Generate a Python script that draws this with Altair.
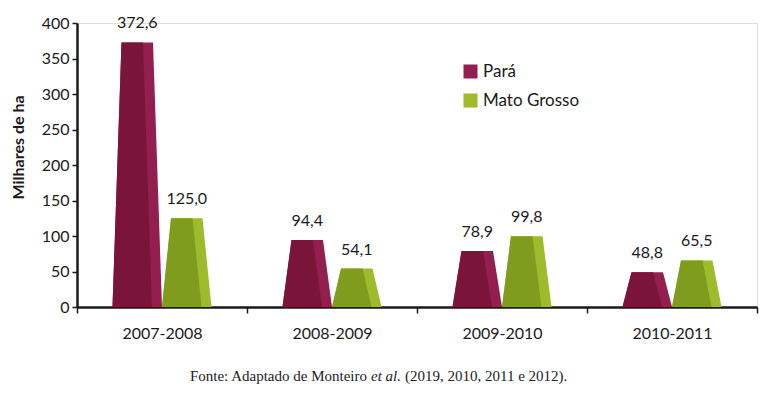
import altair as alt
import pandas as pd

periods = ["2007-2008", "2008-2009", "2009-2010", "2010-2011"]
series = ["Pará", "Mato Grosso"]
para = [372.6, 94.4, 78.9, 48.8]
mato = [125.0, 54.1, 99.8, 65.5]
y_ticks = [0, 50, 100, 150, 200, 250, 300, 350, 400]
footer = ["Fonte: Adaptado de Monteiro", "et al.", "(2019, 2010, 2011 e 2012)."]

side_colors = ["#931f50", "#9dbb2a"]
front_colors = ["#7a1539", "#7f9c1f"]

W, H = 680, 284
PX = len(periods) / W          # one pixel in band units
BOT = 49.5 * PX                # bottom width of a bar
INSET = 9 * PX                 # slant of the sides
SIDE = 10 * PX                 # width of the lit side face

rows, labels = [], []
for i, p in enumerate(periods):
    c = i + 0.5
    for s, vals in zip(series, (para, mato)):
        v = vals[i]
        xl = c - BOT if s == "Pará" else c
        xr = xl + BOT
        key = f"{p}-{s}"
        for face, pts in (
            ("side", [(xl, 0), (xl + INSET, v), (xr - INSET, v), (xr, 0)]),
            ("front", [(xl, 0), (xl + INSET, v), (xr - INSET - SIDE, v), (xr - SIDE, 0)]),
        ):
            for x, y in pts:
                rows.append({"key": key + face, "face": face, "series": s, "x": x, "y": y, "base": 0})
        labels.append({"series": s, "x": (xl + xr) / 2, "y": v,
                       "txt": f"{v:.1f}".replace(".", ",")})

df = pd.DataFrame(rows)
lab = pd.DataFrame(labels)

arr = "[" + ",".join(f"'{p}'" for p in periods) + "]"
xaxis = alt.Axis(
    values=[k / 2 for k in range(0, 2 * len(periods) + 1)],
    labelExpr=f"datum.value % 1 == 0 ? '' : {arr}[floor(datum.value)]",
    title=None, grid=False, labelOverlap=False, labelFlush=False, labelBound=False,
    domainColor="#1a1a1a", domainWidth=2.5,
    tickColor={"condition": {"test": "datum.value % 1 != 0", "value": "transparent"}, "value": "#1a1a1a"},
    tickWidth=1.5, tickSize=6, labelFont="Lato", labelFontSize=16, labelColor="#1a1a1a",
    labelPadding=12,
)
xs = alt.Scale(domain=[0, len(periods)], nice=False, zero=False)
ys = alt.Scale(domain=[0, 400], nice=False)
yaxis = alt.Axis(
    values=y_ticks, title="Milhares de ha", grid=False,
    labelOverlap=False, labelFlush=False,
    domainColor="#1a1a1a", domainWidth=2.5, tickColor="#1a1a1a", tickWidth=1.5, tickSize=5,
    labelFont="Lato", labelFontSize=16, labelColor="#1a1a1a", labelPadding=3,
    titleFont="Lato", titleFontSize=16, titleFontWeight="bold", titleColor="#1a1a1a",
    titleX=-59, titleY=124, titleAngle=270, titleBaseline="middle", titleAlign="center",
)
X = alt.X("x:Q", scale=xs, axis=xaxis)
Y = alt.Y("y:Q", scale=ys, axis=yaxis)

base = alt.Chart(df)
side = base.transform_filter(alt.datum.face == "side").mark_area(interpolate="linear").encode(
    x=X, y=Y, y2="base:Q", detail="key:N",
    color=alt.Color("series:N", scale=alt.Scale(domain=series, range=side_colors),
                    legend=alt.Legend(title=None, orient="none", legendX=385, legendY=40,
                                      symbolType="square", symbolSize=196, symbolStrokeWidth=0,
                                      labelFont="Lato", labelFontSize=17, labelColor="#1a1a1a",
                                      rowPadding=11, labelOffset=4)),
)
front = base.transform_filter(alt.datum.face == "front").mark_area(interpolate="linear").encode(
    x=X, y=Y, y2="base:Q", detail="key:N",
    fill=alt.Fill("series:N", scale=alt.Scale(domain=series, range=front_colors), legend=None),
)
text = alt.Chart(lab).mark_text(font="Lato", fontSize=16, color="#1a1a1a", baseline="middle", dy=-19).encode(
    x=X, y=Y, text="txt:N"
)

fdf = pd.DataFrame({"t": footer})
fstyle = dict(font="Liberation Serif", fontSize=15, baseline="alphabetic", color="#222")
f1 = alt.Chart(fdf).transform_filter(alt.datum.t == footer[0]).mark_text(
    align="right", **fstyle).encode(x=alt.value(290), y=alt.value(358), text="t:N")
f2 = alt.Chart(fdf).transform_filter(alt.datum.t == footer[1]).mark_text(
    align="left", fontStyle="italic", **fstyle).encode(x=alt.value(294), y=alt.value(358), text="t:N")
f3 = alt.Chart(fdf).transform_filter(alt.datum.t == footer[2]).mark_text(
    align="left", **fstyle).encode(x=alt.value(328), y=alt.value(358), text="t:N")

chart = alt.layer(side, front, text, f1, f2, f3).resolve_scale(color="independent").properties(
    width=W, height=H, autosize=alt.AutoSizeParams(type="none"),
    padding={"left": 69, "top": 15, "right": 14, "bottom": 90},
).configure_view(strokeWidth=0).configure(background="white")

chart.save("out.html", embed_options={"renderer": "svg", "actions": False})
